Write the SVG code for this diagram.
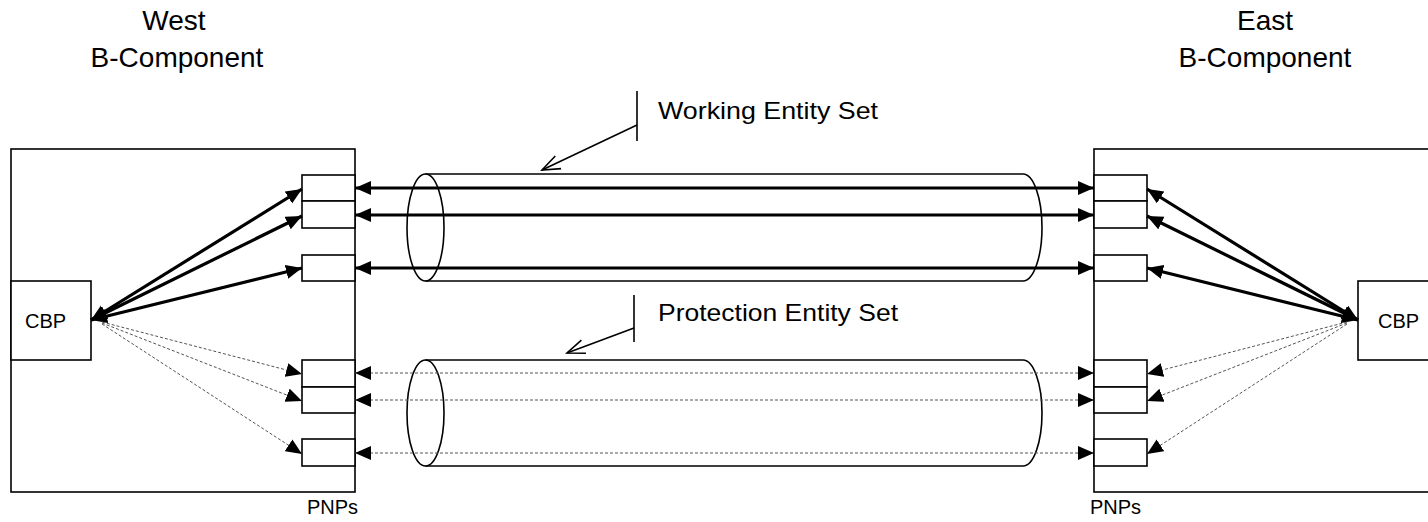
<svg xmlns="http://www.w3.org/2000/svg" width="1428" height="522" viewBox="0 0 1428 522">
<style>
  text { font-family: "Liberation Sans", Arial, sans-serif; fill: #000; }
  .title { font-size: 28px; text-anchor: middle; }
  .label { font-size: 24px; }
  .small { font-size: 20px; }
  .box { fill: #fff; stroke: #000; stroke-width: 1.6; }
  .cyl { fill: none; stroke: #000; stroke-width: 1.6; }
  .work { stroke: #000; stroke-width: 3.2; fill: none; }
  .prot { stroke: #555; stroke-width: 1; stroke-dasharray: 3 2; fill: none; }
  .call { stroke: #000; stroke-width: 1.6; fill: none; }
</style>
<defs>
  <marker id="ah" markerUnits="userSpaceOnUse" markerWidth="18" markerHeight="15" refX="16" refY="7" orient="auto-start-reverse">
    <path d="M0,0 L16,7 L0,14 z" fill="#000"/>
  </marker>
  <marker id="open" markerUnits="userSpaceOnUse" markerWidth="22" markerHeight="22" refX="18" refY="9" orient="auto">
    <path d="M0,2 L18,9 L0,16" fill="none" stroke="#000" stroke-width="1.6"/>
  </marker>
</defs>

<g id="titles">
  <text class="title" x="174" y="30">West</text>
  <text class="title" x="177" y="67">B-Component</text>
  <text class="title" x="1265" y="30">East</text>
  <text class="title" x="1265" y="67">B-Component</text>
</g>

<g id="west-b-component">
  <rect class="box" x="11" y="149" width="344" height="343"/>
  <text class="small" x="307" y="514">PNPs</text>
</g>
<g id="west-cbp">
  <rect class="box" x="11" y="281" width="80" height="79"/>
  <text class="small" x="25" y="328">CBP</text>
</g>
<g id="west-pnps">
  <rect class="box" x="302" y="175" width="53" height="26"/>
  <rect class="box" x="302" y="201" width="53" height="27"/>
  <rect class="box" x="302" y="255" width="53" height="26"/>
  <rect class="box" x="302" y="360" width="53" height="27"/>
  <rect class="box" x="302" y="387" width="53" height="26"/>
  <rect class="box" x="302" y="439" width="53" height="27"/>
</g>

<g id="east-b-component">
  <rect class="box" x="1094" y="149" width="345" height="343"/>
  <text class="small" x="1090" y="514">PNPs</text>
</g>
<g id="east-cbp">
  <rect class="box" x="1358" y="281" width="80" height="79"/>
  <text class="small" x="1378" y="328">CBP</text>
</g>
<g id="east-pnps">
  <rect class="box" x="1094" y="175" width="53" height="26"/>
  <rect class="box" x="1094" y="201" width="53" height="27"/>
  <rect class="box" x="1094" y="255" width="53" height="26"/>
  <rect class="box" x="1094" y="360" width="53" height="27"/>
  <rect class="box" x="1094" y="387" width="53" height="26"/>
  <rect class="box" x="1094" y="439" width="53" height="27"/>
</g>

<g id="working-entity-set">
  <path class="cyl" d="M425.5,174 L1023,174 A19,53.5 0 0 1 1023,281 L425.5,281"/>
  <ellipse class="cyl" cx="425.5" cy="227.5" rx="18.5" ry="53.5"/>
  <line class="call" x1="637" y1="91" x2="637" y2="141"/>
  <line class="call" x1="637" y1="125" x2="542" y2="170" marker-end="url(#open)"/>
  <text class="label" x="658" y="119" textLength="220" lengthAdjust="spacingAndGlyphs">Working Entity Set</text>
</g>

<g id="protection-entity-set">
  <path class="cyl" d="M425.5,360 L1023,360 A19,53 0 0 1 1023,466 L425.5,466"/>
  <ellipse class="cyl" cx="425.5" cy="413" rx="18.5" ry="53"/>
  <line class="call" x1="634" y1="295" x2="634" y2="342"/>
  <line class="call" x1="634" y1="328" x2="567" y2="353" marker-end="url(#open)"/>
  <text class="label" x="658" y="321" textLength="240" lengthAdjust="spacingAndGlyphs">Protection Entity Set</text>
</g>

<g id="connectors">
  <line class="work" x1="355" y1="188" x2="1094" y2="188" marker-start="url(#ah)" marker-end="url(#ah)"/>
  <line class="work" x1="355" y1="215" x2="1094" y2="215" marker-start="url(#ah)" marker-end="url(#ah)"/>
  <line class="work" x1="355" y1="268" x2="1094" y2="268" marker-start="url(#ah)" marker-end="url(#ah)"/>

  <line class="prot" x1="355" y1="373" x2="1094" y2="373" marker-start="url(#ah)" marker-end="url(#ah)"/>
  <line class="prot" x1="355" y1="400" x2="1094" y2="400" marker-start="url(#ah)" marker-end="url(#ah)"/>
  <line class="prot" x1="355" y1="453" x2="1094" y2="453" marker-start="url(#ah)" marker-end="url(#ah)"/>

  <line class="work" x1="91" y1="320" x2="302" y2="189" marker-start="url(#ah)" marker-end="url(#ah)"/>
  <line class="work" x1="91" y1="320" x2="302" y2="216" marker-start="url(#ah)" marker-end="url(#ah)"/>
  <line class="work" x1="91" y1="320" x2="302" y2="268" marker-start="url(#ah)" marker-end="url(#ah)"/>

  <line class="work" x1="1358" y1="320" x2="1147" y2="189" marker-start="url(#ah)" marker-end="url(#ah)"/>
  <line class="work" x1="1358" y1="320" x2="1147" y2="216" marker-start="url(#ah)" marker-end="url(#ah)"/>
  <line class="work" x1="1358" y1="320" x2="1147" y2="268" marker-start="url(#ah)" marker-end="url(#ah)"/>

  <line class="prot" x1="102" y1="322" x2="302" y2="374" marker-end="url(#ah)"/>
  <line class="prot" x1="102" y1="323" x2="302" y2="401" marker-end="url(#ah)"/>
  <line class="prot" x1="102" y1="324" x2="302" y2="454" marker-end="url(#ah)"/>

  <line class="prot" x1="1347" y1="322" x2="1147" y2="374" marker-end="url(#ah)"/>
  <line class="prot" x1="1347" y1="323" x2="1147" y2="401" marker-end="url(#ah)"/>
  <line class="prot" x1="1347" y1="324" x2="1147" y2="454" marker-end="url(#ah)"/>
</g>
</svg>
